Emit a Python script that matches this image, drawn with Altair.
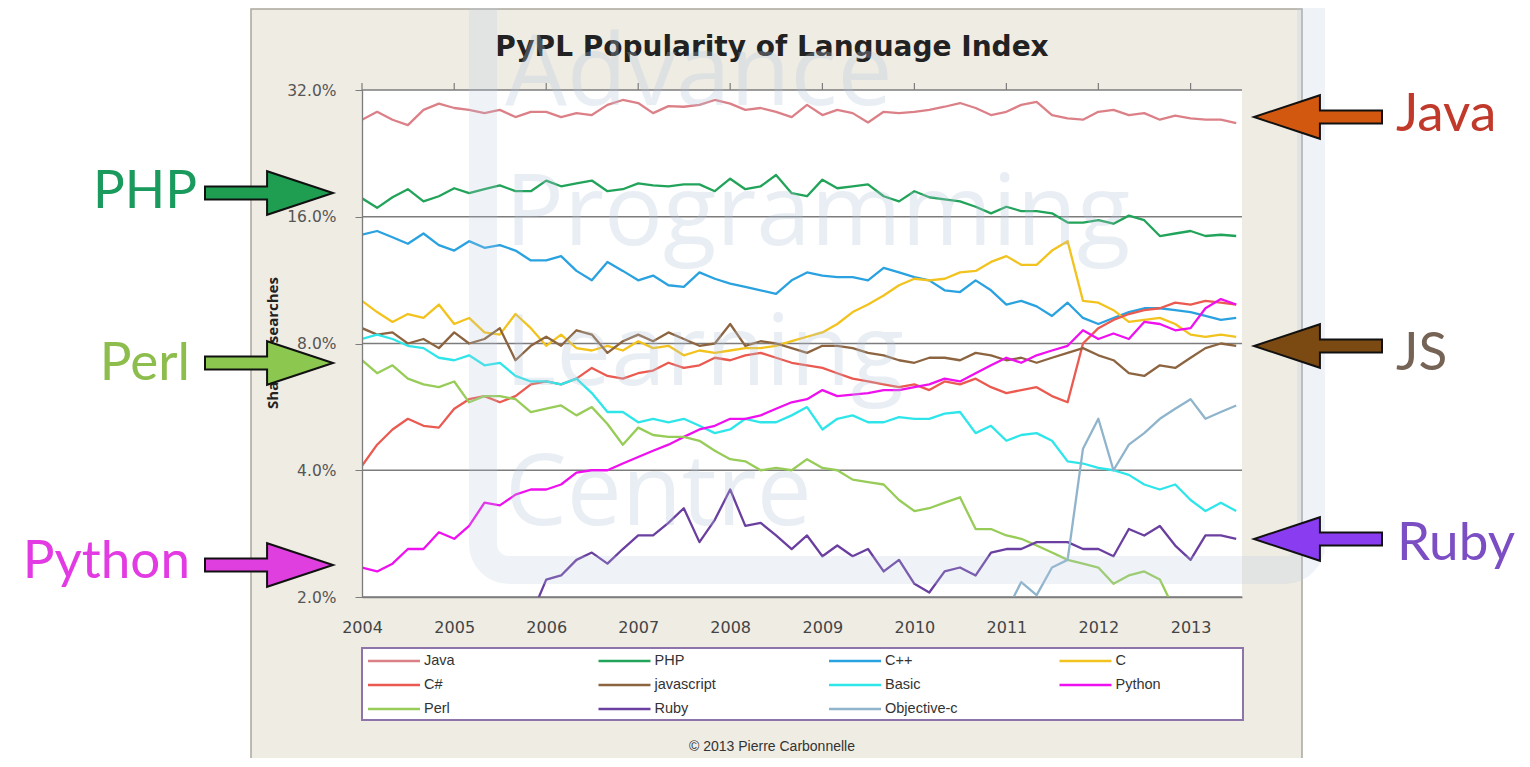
import altair as alt
import pandas as pd

# ---------------- data ----------------
dates = pd.date_range("2004-01-01", periods=58, freq="2MS")  # bimonthly samples
years = list(range(2004, 2014))

languages = ["Java", "PHP", "C++", "C", "C#", "javascript", "Basic", "Python",
             "Perl", "Ruby", "Objective-c"]
line_colors = ["#dc8088", "#22a35a", "#2aa2e0", "#f2c31e", "#ea5a50", "#8c6440",
               "#2ee6ea", "#ee10ee", "#98cc58", "#6a3fa0", "#8fb4cc"]

N = None
java = [27.2, 28.4, 27.2, 26.4, 28.7, 29.7,
        29.0, 28.7, 28.2, 28.7, 27.6, 28.4,
        28.4, 27.6, 28.2, 27.9, 29.5, 30.3,
        29.8, 28.2, 29.3, 29.2, 29.5, 30.3,
        29.7, 28.7, 29.0, 28.4, 27.6, 29.5,
        27.9, 28.7, 28.2, 26.8, 28.4, 28.2,
        28.4, 28.7, 29.2, 29.8, 29.0, 27.9,
        28.4, 29.5, 30.0, 27.9, 27.4, 27.2,
        28.4, 28.7, 27.9, 28.2, 27.2, 27.8,
        27.4, 27.2, 27.2, 26.7]
php = [17.7, 16.8, 17.8, 18.6, 17.4, 17.9,
       18.7, 18.2, 18.6, 19.0, 18.4, 18.4,
       19.5, 18.9, 19.2, 19.5, 18.4, 18.6,
       19.2, 19.0, 18.9, 19.1, 19.1, 18.4,
       19.7, 18.6, 18.9, 20.1, 18.2, 17.9,
       19.6, 18.7, 18.9, 19.1, 17.9, 17.4,
       18.4, 17.8, 17.6, 17.4, 16.9, 16.3,
       16.9, 16.5, 16.5, 16.3, 15.5, 15.5,
       15.7, 15.4, 16.1, 15.7, 14.4, 14.6,
       14.8, 14.4, 14.5, 14.4]
cpp = [14.5, 14.8, 14.3, 13.8, 14.6, 13.7,
       13.3, 14.0, 13.5, 13.7, 13.3, 12.6,
       12.6, 12.9, 11.9, 11.3, 12.5, 11.9,
       11.3, 11.6, 11.0, 10.9, 11.8, 11.4,
       11.1, 10.9, 10.7, 10.5, 11.3, 11.8,
       11.6, 11.5, 11.5, 11.3, 12.1, 11.8,
       11.5, 11.3, 10.7, 10.6, 11.3, 10.7,
       9.9, 10.1, 9.8, 9.3, 10.0, 9.2,
       8.9, 9.2, 9.5, 9.7, 9.7, 9.6,
       9.5, 9.3, 9.1, 9.2]
c_lang = [10.1, 9.5, 9.0, 9.4, 9.2, 9.9,
          8.9, 9.2, 8.5, 8.4, 9.4, 8.7,
          7.9, 8.4, 7.8, 7.7, 7.9, 7.7,
          8.1, 7.8, 7.9, 7.5, 7.7, 7.6,
          7.7, 7.8, 7.8, 7.9, 8.1, 8.3,
          8.5, 8.9, 9.5, 9.9, 10.4, 11.0,
          11.4, 11.3, 11.4, 11.8, 11.9, 12.5,
          12.9, 12.3, 12.3, 13.3, 14.0, 10.1,
          10.0, 9.6, 9.0, 9.1, 9.2, 8.9,
          8.4, 8.3, 8.4, 8.3]
csharp = [4.1, 4.6, 5.0, 5.3, 5.1, 5.05,
          5.6, 5.9, 6.0, 5.8, 6.0, 6.4,
          6.5, 6.4, 6.6, 7.0, 6.7, 6.6,
          6.8, 6.9, 7.2, 7.0, 7.1, 7.4,
          7.3, 7.5, 7.6, 7.4, 7.2, 7.1,
          7.0, 6.8, 6.6, 6.5, 6.4, 6.3,
          6.4, 6.2, 6.5, 6.4, 6.6, 6.3,
          6.1, 6.2, 6.3, 6.0, 5.8, 8.0,
          8.7, 9.1, 9.4, 9.6, 9.7, 10.0,
          9.9, 10.1, 10.0, 9.9]
javascript = [8.7, 8.4, 8.5, 8.0, 8.2, 7.8,
              8.5, 8.0, 8.2, 8.7, 7.3, 7.9,
              8.3, 7.9, 8.6, 8.4, 7.6, 8.1,
              8.4, 8.1, 8.5, 8.2, 7.9, 8.0,
              8.9, 7.9, 8.1, 8.0, 7.8, 7.6,
              7.9, 7.9, 7.8, 7.6, 7.5, 7.3,
              7.2, 7.4, 7.4, 7.3, 7.6, 7.5,
              7.3, 7.4, 7.2, 7.4, 7.6, 7.8,
              7.5, 7.3, 6.8, 6.7, 7.1, 7.0,
              7.4, 7.8, 8.0, 7.9]
basic = [8.2, 8.4, 8.2, 7.9, 7.8, 7.4,
         7.3, 7.5, 7.1, 7.2, 6.7, 6.5,
         6.5, 6.4, 6.6, 6.1, 5.5, 5.5,
         5.2, 5.3, 5.2, 5.3, 5.1, 4.9,
         5.0, 5.3, 5.2, 5.2, 5.4, 5.65,
         5.0, 5.3, 5.4, 5.2, 5.2, 5.35,
         5.3, 5.3, 5.45, 5.5, 4.9, 5.1,
         4.7, 4.85, 4.9, 4.7, 4.2, 4.15,
         4.05, 4.0, 3.9, 3.7, 3.6, 3.7,
         3.4, 3.2, 3.35, 3.2]
python = [2.35, 2.3, 2.4, 2.6, 2.6, 2.85,
          2.75, 2.95, 3.35, 3.3, 3.5, 3.6,
          3.6, 3.7, 3.95, 4.0, 4.0, 4.15,
          4.3, 4.45, 4.6, 4.8, 5.0, 5.1,
          5.3, 5.3, 5.4, 5.6, 5.8, 5.9,
          6.2, 6.0, 6.05, 6.1, 6.2, 6.2,
          6.3, 6.4, 6.6, 6.5, 6.8, 7.1,
          7.4, 7.2, 7.5, 7.7, 7.9, 8.6,
          8.2, 8.45, 8.2, 9.0, 8.9, 8.6,
          8.7, 9.7, 10.2, 9.9]
perl = [7.3, 6.8, 7.1, 6.6, 6.4, 6.3,
        6.5, 5.8, 6.0, 6.0, 5.9, 5.5,
        5.6, 5.7, 5.4, 5.65, 5.15, 4.6,
        5.05, 4.85, 4.8, 4.8, 4.7, 4.45,
        4.25, 4.2, 4.0, 4.05, 4.0, 4.25,
        4.05, 4.0, 3.8, 3.75, 3.7, 3.4,
        3.2, 3.25, 3.35, 3.45, 2.9, 2.9,
        2.8, 2.75, 2.65, 2.55, 2.45, 2.4,
        2.35, 2.15, 2.25, 2.3, 2.2, 1.85,
        N, N, N, N]
ruby = [N, N, N, N, N, N,
        N, N, N, N, N, 1.8,
        2.2, 2.25, 2.45, 2.55, 2.4, 2.6,
        2.8, 2.8, 3.0, 3.25, 2.7, 3.05,
        3.6, 2.95, 3.0, 2.8, 2.6, 2.8,
        2.5, 2.65, 2.5, 2.6, 2.3, 2.45,
        2.15, 2.05, 2.3, 2.35, 2.25, 2.55,
        2.6, 2.6, 2.7, 2.7, 2.7, 2.6,
        2.6, 2.5, 2.9, 2.8, 2.95, 2.65,
        2.45, 2.8, 2.8, 2.75]
objc = [N, N, N, N, N, N,
        N, N, N, N, N, N,
        N, N, N, N, N, N,
        N, N, N, N, N, N,
        N, N, N, N, N, N,
        N, N, N, N, N, N,
        N, N, N, N, N, N,
        1.85, 2.17, 2.02, 2.35, 2.45, 4.5,
        5.3, 4.0, 4.6, 4.9, 5.3, 5.6,
        5.9, 5.3, 5.5, 5.7]

series = {"Java": java, "PHP": php, "C++": cpp, "C": c_lang, "C#": csharp,
          "javascript": javascript, "Basic": basic, "Python": python,
          "Perl": perl, "Ruby": ruby, "Objective-c": objc}

grid_values = [2, 4, 8, 16, 32]

title_text = "PyPL Popularity of Language Index"
y_title_text = "Share of searches"
copyright_text = "\u00a9 2013 Pierre Carbonnelle"
watermark_lines = ["Advance", "Programming", "Learning", "Centre"]

left_labels = ["PHP", "Perl", "Python"]
left_label_colors = ["#1b9a5e", "#8dbd4c", "#e33be3"]
left_arrow_fills = ["#1f9e52", "#8cc850", "#e03fe0"]
right_labels = ["Java", "JS", "Ruby"]
right_label_colors = ["#c0392b", "#756355", "#7c4ec4"]
right_arrow_fills = ["#d2580f", "#7b4a12", "#8a3cf0"]

# ---------------- layout helpers (page pixel -> plot pixel) ----------------
X0, Y0 = 362, 90
W, H = 880, 507


def px(x):
    return x - X0


def py(y):
    return y - Y0


rows = []
for lang in languages:
    for d, v in zip(dates, series[lang]):
        if v is not None:
            rows.append({"date": d, "lang": lang, "share": v})
df = pd.DataFrame(rows)

one = pd.DataFrame({"k": [0]})

xscale = alt.Scale(domain=[alt.DateTime(year=2004, month=1, date=1),
                           alt.DateTime(year=2013, month=7, date=24)])
yscale = alt.Scale(type="log", base=2, domain=[2, 32], nice=False)
color_scale = alt.Scale(domain=languages, range=line_colors)

x_axis = alt.Axis(values=[alt.DateTime(year=y, month=1, date=1) for y in years],
                  format="%Y", title=None, grid=False, ticks=False,
                  domainColor="#7c7c7c", domainWidth=1.3,
                  labelFont="DejaVu Sans", labelFontSize=16, labelColor="#444",
                  labelPadding=22, labelFlush=False, labelOverlap=False, zindex=1)
y_axis = alt.Axis(values=grid_values, labelExpr="format(datum.value, '.1f') + '%'",
                  title=None, grid=False, tickSize=7, tickColor="#7c7c7c",
                  domainColor="#7c7c7c", domainWidth=1.3,
                  labelFont="DejaVu Sans", labelFontSize=15.5, labelColor="#555",
                  labelPadding=19, zindex=1)

# chart frame (beige panel)
frame = alt.Chart(one).mark_rect(fill="#efece4", stroke="#aaa79f", strokeWidth=1.5).encode(
    x=alt.value(px(251)), x2=alt.value(px(1302)), y=alt.value(py(9)), y2=alt.value(py(775)))

plot_bg = alt.Chart(one).mark_rect(fill="white").encode(
    x=alt.value(0), x2=alt.value(W), y=alt.value(0), y2=alt.value(H))

grid = alt.Chart(pd.DataFrame({"g": grid_values})).mark_rule(
    color="#7c7c7c", strokeWidth=1.3).encode(
    y=alt.Y("g:Q", scale=yscale, axis=y_axis), x=alt.value(0), x2=alt.value(W))

top_ticks = alt.Chart(pd.DataFrame({"yr": pd.to_datetime([f"{y}-01-01" for y in years])})).mark_rule(
    color="#7c7c7c", strokeWidth=1.2).encode(
    x=alt.X("yr:T", scale=xscale, axis=x_axis), y=alt.value(-7), y2=alt.value(0))

lines = alt.Chart(df).mark_line(strokeWidth=2.3, clip=True, strokeJoin="round").encode(
    x=alt.X("date:T", scale=xscale, axis=x_axis),
    y=alt.Y("share:Q", scale=yscale, axis=y_axis),
    color=alt.Color("lang:N", scale=color_scale, legend=None),
    order=alt.Order("date:T"),
)

# legend (built by hand: 4 columns x 3 rows)
leg = pd.DataFrame({"lang": languages})
leg["col"] = [i % 4 for i in range(len(languages))]
leg["row"] = [i // 4 for i in range(len(languages))]
leg["lx"] = px(368) + leg["col"] * 230.5
leg["lx2"] = leg["lx"] + 52
leg["tx"] = leg["lx"] + 56
leg["ly"] = py(661) + leg["row"] * 24

legend_box = alt.Chart(one).mark_rect(fill="white", stroke="#8f73ab", strokeWidth=2).encode(
    x=alt.value(px(362)), x2=alt.value(px(1243)), y=alt.value(py(648)), y2=alt.value(py(720)))
legend_lines = alt.Chart(leg).mark_rule(strokeWidth=2.3).encode(
    x=alt.X("lx:Q", scale=None), x2="lx2:Q", y=alt.Y("ly:Q", scale=None),
    color=alt.Color("lang:N", scale=color_scale, legend=None))
legend_text = alt.Chart(leg).mark_text(align="left", baseline="middle", font="Liberation Sans",
                                       fontSize=14.5, color="#333").encode(
    x=alt.X("tx:Q", scale=None), y=alt.Y("ly:Q", scale=None), text="lang:N")

title = alt.Chart(one).mark_text(font="DejaVu Sans", fontWeight="bold", fontSize=28, color="#222",
                                 align="center", baseline="middle").encode(
    x=alt.value(px(772)), y=alt.value(py(48)), text=alt.value(title_text))
copyright_mark = alt.Chart(one).mark_text(font="Liberation Sans", fontSize=14, color="#333",
                                          align="center", baseline="middle").encode(
    x=alt.value(px(772)), y=alt.value(py(747)), text=alt.value(copyright_text))
y_title = alt.Chart(one).mark_text(font="Open Sans", fontWeight="bold", fontSize=15, color="#222",
                                   angle=270, align="center", baseline="middle").encode(
    x=alt.value(px(273)), y=alt.value(py(343)), text=alt.value(y_title_text))

# watermark
wm = pd.DataFrame({"t": watermark_lines, "wy": [py(105 + 140 * i) for i in range(4)]})
wm_text = alt.Chart(wm).mark_text(align="left", baseline="alphabetic", font="Open Sans",
                                  fontSize=98, color="#b3c6da", opacity=0.28).encode(
    x=alt.value(px(505)), y=alt.Y("wy:Q", scale=None), text="t:N")
wm_box = alt.Chart(one).mark_rect(fillOpacity=0, stroke="#b6cae0", strokeWidth=28,
                                  strokeOpacity=0.22, cornerRadius=26).encode(
    x=alt.value(px(483)), x2=alt.value(px(1311)), y=alt.value(py(-40)), y2=alt.value(py(570)))

# arrows
RIGHT_ARROW = "M -1 -0.1 L -0.03 -0.1 L -0.03 -0.34 L 1 0 L -0.03 0.34 L -0.03 0.1 L -1 0.1 Z"
LEFT_ARROW = "M 1 -0.1 L 0.03 -0.1 L 0.03 -0.34 L -1 0 L 0.03 0.34 L 0.03 0.1 L 1 0.1 Z"

ar = pd.DataFrame({"ax": [px(269)] * 3, "ay": [py(193), py(363), py(565)], "fill": left_arrow_fills})
al = pd.DataFrame({"ax": [px(1318)] * 3, "ay": [py(117), py(346), py(539)], "fill": right_arrow_fills})
arrows_r = alt.Chart(ar).mark_point(shape=RIGHT_ARROW, size=16384, filled=True, opacity=1,
                                    stroke="#111", strokeWidth=2).encode(
    x=alt.X("ax:Q", scale=None), y=alt.Y("ay:Q", scale=None), fill=alt.Fill("fill:N", scale=None))
arrows_l = alt.Chart(al).mark_point(shape=LEFT_ARROW, size=16384, filled=True, opacity=1,
                                    stroke="#111", strokeWidth=2).encode(
    x=alt.X("ax:Q", scale=None), y=alt.Y("ay:Q", scale=None), fill=alt.Fill("fill:N", scale=None))

ll = pd.DataFrame({"t": left_labels, "c": left_label_colors,
                   "tx": [px(197), px(190), px(190)], "ty": [py(208), py(380), py(578)]})
rl = pd.DataFrame({"t": right_labels, "c": right_label_colors,
                   "tx": [px(1396), px(1396), px(1397)], "ty": [py(131), py(370), py(560)]})
labels_l = alt.Chart(ll).mark_text(align="right", baseline="alphabetic", font="Lato", fontSize=53).encode(
    x=alt.X("tx:Q", scale=None), y=alt.Y("ty:Q", scale=None), text="t:N",
    color=alt.Color("c:N", scale=None))
labels_r = alt.Chart(rl).mark_text(align="left", baseline="alphabetic", font="Lato", fontSize=53).encode(
    x=alt.X("tx:Q", scale=None), y=alt.Y("ty:Q", scale=None), text="t:N",
    color=alt.Color("c:N", scale=None))

chart = alt.layer(
    frame, plot_bg, grid, top_ticks, lines,
    legend_box, legend_lines, legend_text,
    title, copyright_mark, y_title,
    wm_text, wm_box,
    arrows_r, arrows_l, labels_l, labels_r,
).properties(
    width=W, height=H,
    autosize=alt.AutoSizeParams(type="none"),
    padding={"left": X0 - 8, "top": Y0 - 8, "right": 1512 - (X0 - 8) - W, "bottom": 750 - (Y0 - 8) - H},
    background="white",
).configure_view(strokeWidth=0)

chart.save("out.html", embed_options={"renderer": "svg", "actions": False})
